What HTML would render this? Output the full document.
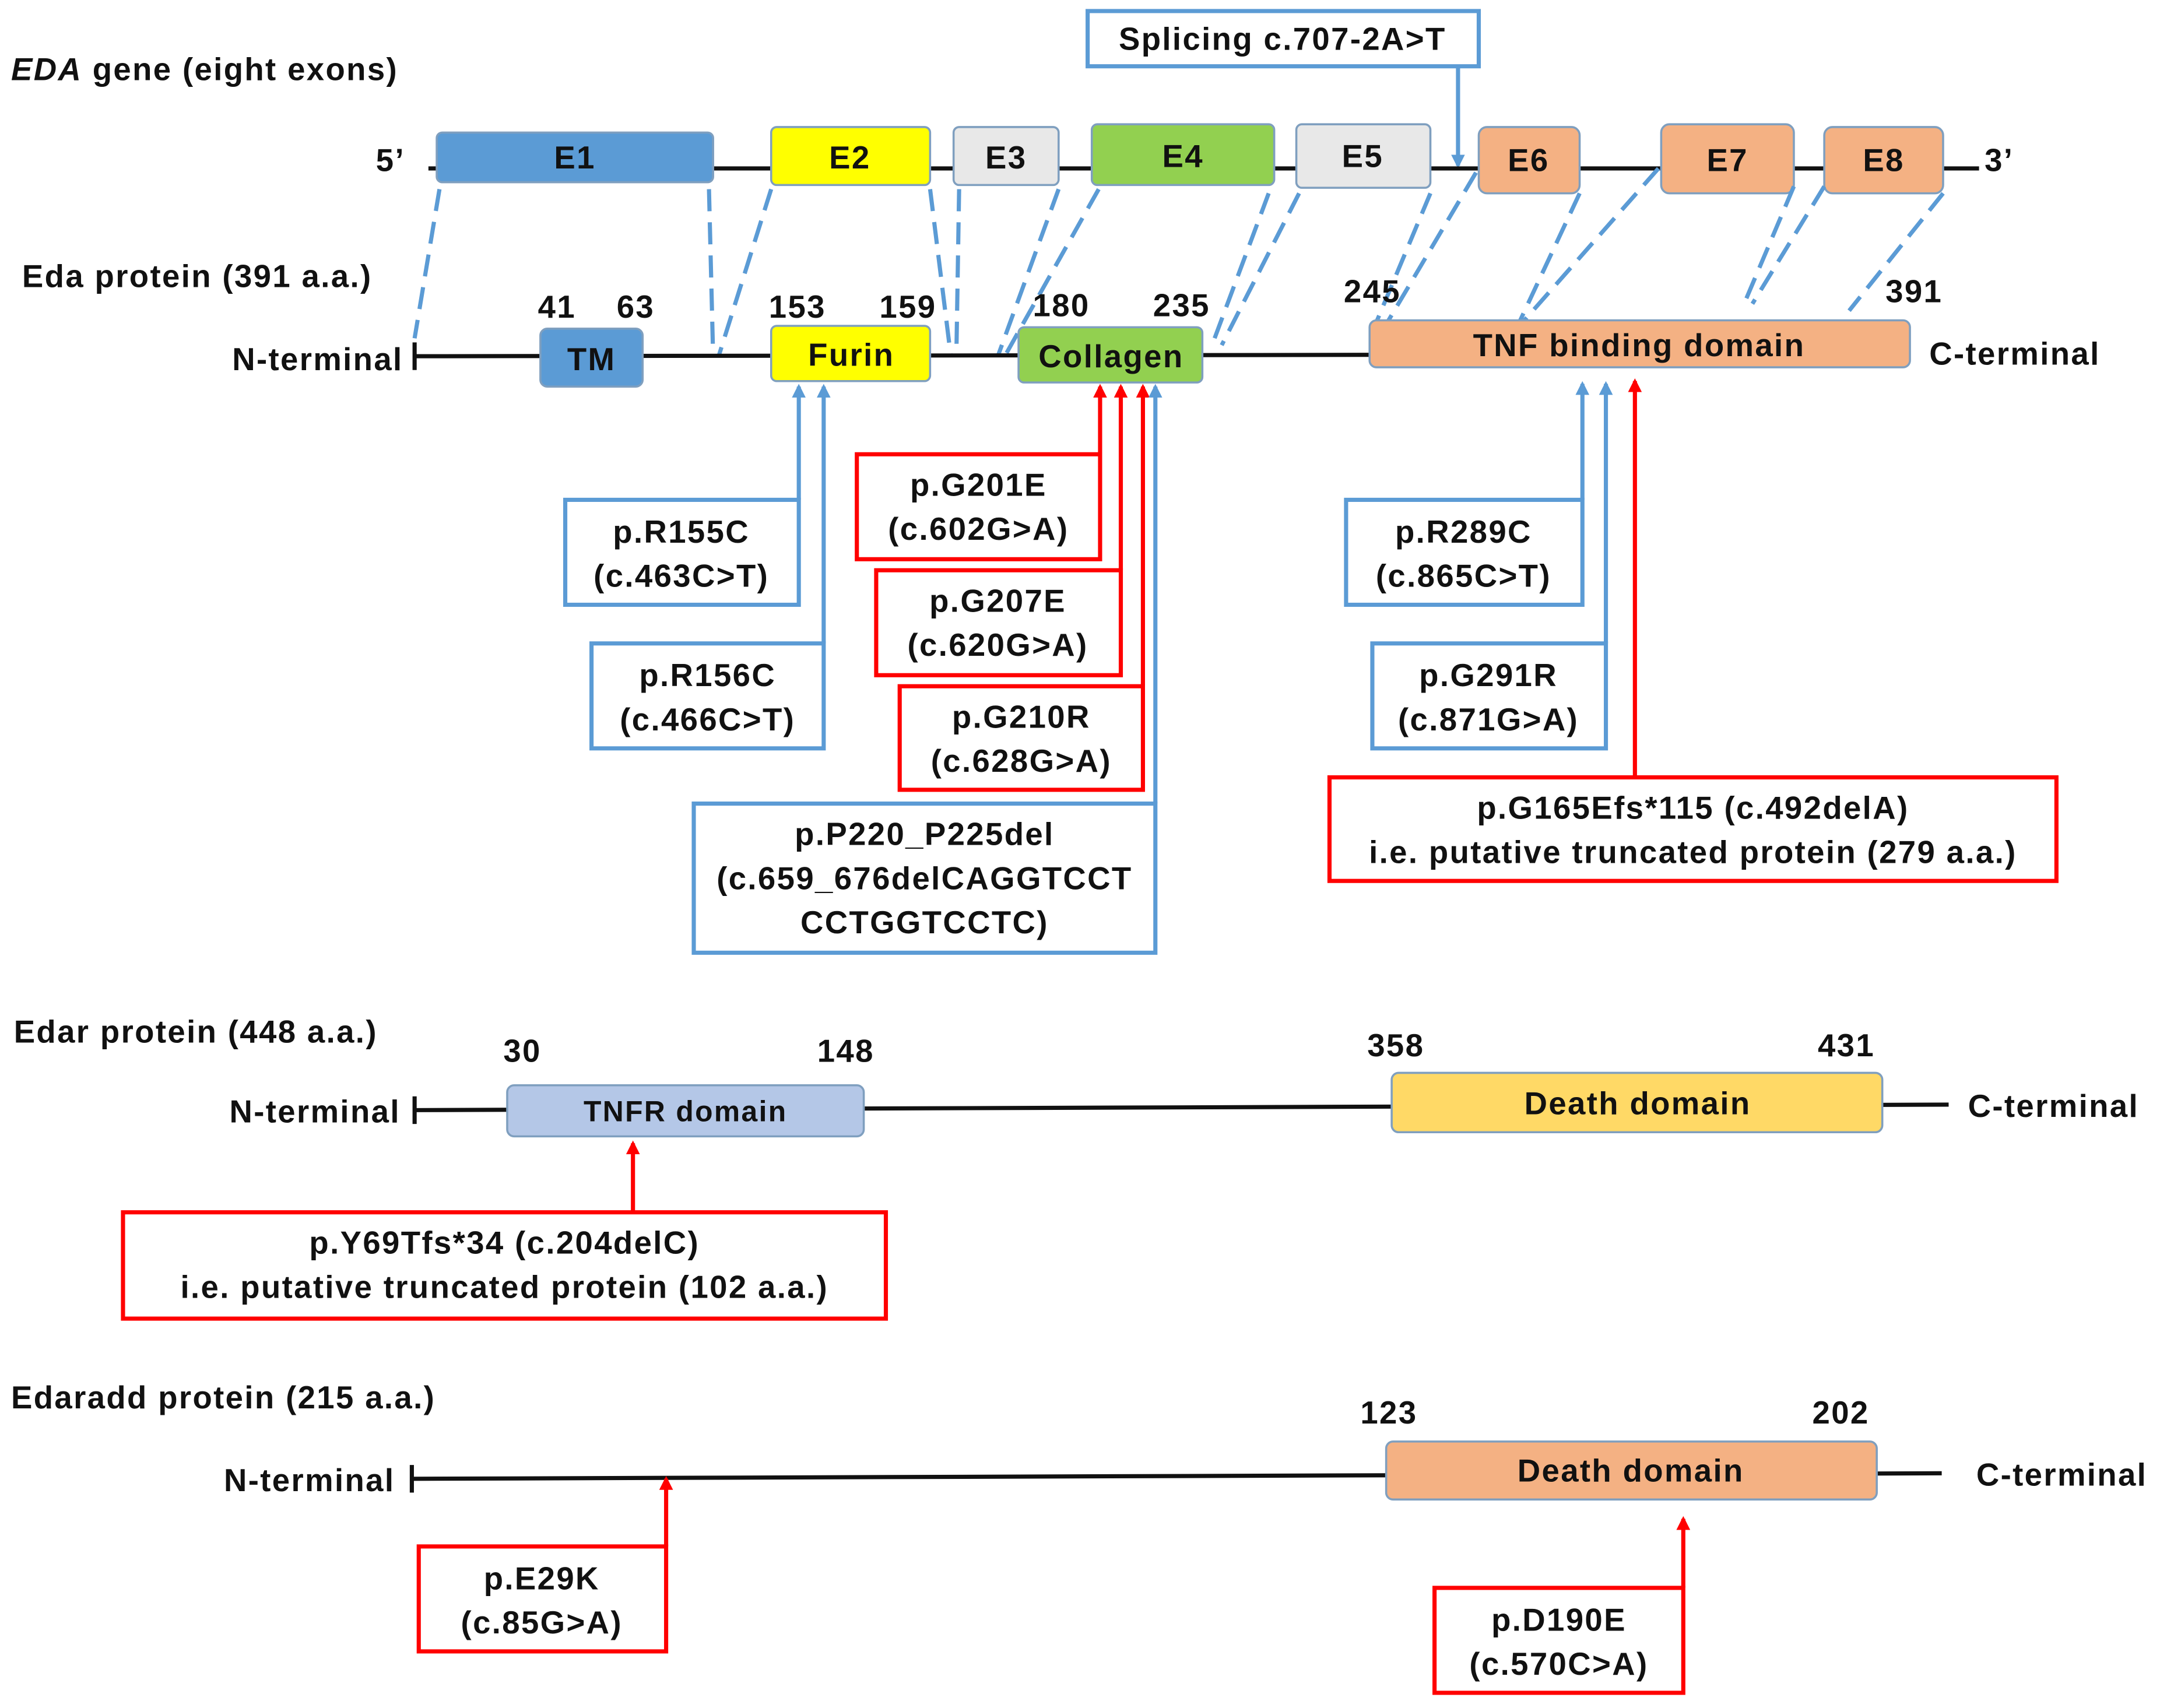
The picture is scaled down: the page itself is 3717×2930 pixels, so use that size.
<!DOCTYPE html>
<html><head><meta charset="utf-8"><style>
html,body{margin:0;padding:0;background:#fff;}
svg{display:block;}
text{font-family:"Liberation Sans",Arial,sans-serif;font-weight:bold;fill:#111;letter-spacing:1px;}
</style></head><body>
<svg width="3717" height="2930" viewBox="0 0 1568 1237" preserveAspectRatio="none" xmlns="http://www.w3.org/2000/svg">
<defs>
<marker id="ab" markerUnits="userSpaceOnUse" markerWidth="10" markerHeight="10" refX="8" refY="5" orient="auto"><path d="M0,0 L10,5 L0,10 z" fill="#5b9bd5"/></marker>
<marker id="ar" markerUnits="userSpaceOnUse" markerWidth="10" markerHeight="10" refX="8" refY="5" orient="auto"><path d="M0,0 L10,5 L0,10 z" fill="#ff0000"/></marker>
</defs>
<g font-size="23">
<text x="8" y="58"><tspan font-style="italic">EDA</tspan> gene (eight exons)</text>
<rect x="787" y="8" width="283" height="40" fill="#fff" stroke="#5b9bd5" stroke-width="3"/>
<text x="928" y="36" text-anchor="middle">Splicing c.707-2A&gt;T</text>
<line x1="1055" y1="48" x2="1055" y2="120" stroke="#5b9bd5" stroke-width="3" marker-end="url(#ab)"/>
<line x1="310" y1="122" x2="1432" y2="122" stroke="#111" stroke-width="3"/>
<text x="272" y="124">5’</text><text x="1436" y="124">3’</text>
<g stroke="#7f9fbf" stroke-width="1.5">
<rect x="316" y="96" width="200" height="36" rx="4" fill="#5b9bd5"/>
<rect x="558" y="92" width="115" height="42" rx="4" fill="#ffff00"/>
<rect x="690" y="92" width="76" height="42" rx="4" fill="#e8e8e8"/>
<rect x="790" y="90" width="132" height="44" rx="4" fill="#92d050"/>
<rect x="938" y="90" width="97" height="46" rx="4" fill="#e8e8e8"/>
<rect x="1070" y="92" width="73" height="48" rx="6" fill="#f4b183"/>
<rect x="1202" y="90" width="96" height="50" rx="6" fill="#f4b183"/>
<rect x="1320" y="92" width="86" height="48" rx="6" fill="#f4b183"/>
</g>
<text x="416" y="122" text-anchor="middle">E1</text>
<text x="615" y="122" text-anchor="middle">E2</text>
<text x="728" y="122" text-anchor="middle">E3</text>
<text x="856" y="121" text-anchor="middle">E4</text>
<text x="986" y="121" text-anchor="middle">E5</text>
<text x="1106" y="124" text-anchor="middle">E6</text>
<text x="1250" y="124" text-anchor="middle">E7</text>
<text x="1363" y="124" text-anchor="middle">E8</text>
<g stroke="#5b9bd5" stroke-width="3" stroke-dasharray="16,8" fill="none">
<line x1="318" y1="137" x2="300" y2="245"/>
<line x1="513" y1="137" x2="516" y2="258"/>
<line x1="558" y1="137" x2="520" y2="258"/>
<line x1="673" y1="137" x2="688" y2="258"/>
<line x1="694" y1="137" x2="692" y2="258"/>
<line x1="766" y1="137" x2="722" y2="258"/>
<line x1="795" y1="137" x2="727" y2="258"/>
<line x1="918" y1="140" x2="877" y2="250"/>
<line x1="940" y1="140" x2="884" y2="250"/>
<line x1="1035" y1="140" x2="991" y2="245"/>
<line x1="1068" y1="125" x2="1000" y2="240"/>
<line x1="1143" y1="140" x2="1100" y2="232"/>
<line x1="1200" y1="122" x2="1103" y2="232"/>
<line x1="1298" y1="135" x2="1262" y2="220"/>
<line x1="1320" y1="135" x2="1268" y2="220"/>
<line x1="1406" y1="140" x2="1338" y2="225"/>
</g>
<text x="16" y="208">Eda protein (391 a.a.)</text>
<line x1="300" y1="258" x2="992" y2="257" stroke="#111" stroke-width="3"/>
<line x1="300" y1="248" x2="300" y2="268" stroke="#111" stroke-width="3"/>
<text x="168" y="268">N-terminal</text>
<text x="1396" y="264">C-terminal</text>
<g stroke="#7f9fbf" stroke-width="1.5">
<rect x="391" y="238" width="74" height="42" rx="5" fill="#5b9bd5"/>
<rect x="558" y="236" width="115" height="40" rx="4" fill="#ffff00"/>
<rect x="737" y="237" width="133" height="40" rx="4" fill="#92d050"/>
<rect x="991" y="232" width="391" height="34" rx="5" fill="#f4b183"/>
</g>
<text x="428" y="268" text-anchor="middle">TM</text>
<text x="616" y="265" text-anchor="middle">Furin</text>
<text x="804" y="266" text-anchor="middle">Collagen</text>
<text x="1186" y="258" text-anchor="middle">TNF binding domain</text>
<text x="403" y="230" text-anchor="middle">41</text>
<text x="460" y="230" text-anchor="middle">63</text>
<text x="577" y="230" text-anchor="middle">153</text>
<text x="657" y="230" text-anchor="middle">159</text>
<text x="768" y="229" text-anchor="middle">180</text>
<text x="855" y="229" text-anchor="middle">235</text>
<text x="993" y="219" text-anchor="middle">245</text>
<text x="1385" y="219" text-anchor="middle">391</text>
<g stroke-width="3" fill="none">
<polyline points="578,362 578,280" stroke="#5b9bd5" marker-end="url(#ab)"/>
<polyline points="596,466 596,280" stroke="#5b9bd5" marker-end="url(#ab)"/>
<polyline points="796,329 796,280" stroke="#ff0000" marker-end="url(#ar)"/>
<polyline points="811,413 811,280" stroke="#ff0000" marker-end="url(#ar)"/>
<polyline points="827,497 827,280" stroke="#ff0000" marker-end="url(#ar)"/>
<polyline points="836,582 836,280" stroke="#5b9bd5" marker-end="url(#ab)"/>
<polyline points="1145,362 1145,278" stroke="#5b9bd5" marker-end="url(#ab)"/>
<polyline points="1162,466 1162,278" stroke="#5b9bd5" marker-end="url(#ab)"/>
<polyline points="1183,563 1183,276" stroke="#ff0000" marker-end="url(#ar)"/>
</g>
<g fill="#fff" stroke-width="3">
<rect x="409" y="362" width="169" height="76" stroke="#5b9bd5"/>
<rect x="428" y="466" width="168" height="76" stroke="#5b9bd5"/>
<rect x="620" y="329" width="176" height="76" stroke="#ff0000"/>
<rect x="634" y="413" width="177" height="76" stroke="#ff0000"/>
<rect x="651" y="497" width="176" height="75" stroke="#ff0000"/>
<rect x="502" y="582" width="334" height="108" stroke="#5b9bd5"/>
<rect x="974" y="362" width="171" height="76" stroke="#5b9bd5"/>
<rect x="993" y="466" width="169" height="76" stroke="#5b9bd5"/>
<rect x="962" y="563" width="526" height="75" stroke="#ff0000"/>
</g>
<g text-anchor="middle">
<text x="493" y="393">p.R155C</text><text x="493" y="425">(c.463C&gt;T)</text>
<text x="512" y="497">p.R156C</text><text x="512" y="529">(c.466C&gt;T)</text>
<text x="708" y="359">p.G201E</text><text x="708" y="391">(c.602G&gt;A)</text>
<text x="722" y="443">p.G207E</text><text x="722" y="475">(c.620G&gt;A)</text>
<text x="739" y="527">p.G210R</text><text x="739" y="559">(c.628G&gt;A)</text>
<text x="669" y="612">p.P220_P225del</text><text x="669" y="644">(c.659_676delCAGGTCCT</text><text x="669" y="676">CCTGGTCCTC)</text>
<text x="1059" y="393">p.R289C</text><text x="1059" y="425">(c.865C&gt;T)</text>
<text x="1077" y="497">p.G291R</text><text x="1077" y="529">(c.871G&gt;A)</text>
<text x="1225" y="593">p.G165Efs*115 (c.492delA)</text><text x="1225" y="625">i.e. putative truncated protein (279 a.a.)</text>
</g>

<text x="10" y="755">Edar protein (448 a.a.)</text>
<text x="378" y="769" text-anchor="middle">30</text>
<text x="612" y="769" text-anchor="middle">148</text>
<text x="1010" y="765" text-anchor="middle">358</text>
<text x="1336" y="765" text-anchor="middle">431</text>
<line x1="300" y1="804" x2="1410" y2="800" stroke="#111" stroke-width="3"/>
<line x1="300" y1="794" x2="300" y2="814" stroke="#111" stroke-width="3"/>
<text x="166" y="813">N-terminal</text>
<text x="1424" y="809">C-terminal</text>
<rect x="367" y="786" width="258" height="37" rx="5" fill="#b4c7e7" stroke="#7f9fbf" stroke-width="1.5"/>
<text x="496" y="812" text-anchor="middle" font-size="21">TNFR domain</text>
<rect x="1007" y="777" width="355" height="43" rx="5" fill="#ffd966" stroke="#7f9fbf" stroke-width="1.5"/>
<text x="1185" y="807" text-anchor="middle">Death domain</text>
<polyline points="458,878 458,828" stroke="#ff0000" stroke-width="3" fill="none" marker-end="url(#ar)"/>
<rect x="89" y="878" width="552" height="77" fill="#fff" stroke="#ff0000" stroke-width="3"/>
<text x="365" y="908" text-anchor="middle">p.Y69Tfs*34 (c.204delC)</text>
<text x="365" y="940" text-anchor="middle">i.e. putative truncated protein (102 a.a.)</text>

<text x="8" y="1020">Edaradd protein (215 a.a.)</text>
<text x="1005" y="1031" text-anchor="middle">123</text>
<text x="1332" y="1031" text-anchor="middle">202</text>
<line x1="298" y1="1071" x2="1405" y2="1067" stroke="#111" stroke-width="3"/>
<line x1="298" y1="1061" x2="298" y2="1081" stroke="#111" stroke-width="3"/>
<text x="162" y="1080">N-terminal</text>
<text x="1430" y="1076">C-terminal</text>
<rect x="1003" y="1044" width="355" height="42" rx="5" fill="#f4b183" stroke="#7f9fbf" stroke-width="1.5"/>
<text x="1180" y="1073" text-anchor="middle">Death domain</text>
<polyline points="482,1120 482,1071" stroke="#ff0000" stroke-width="3" fill="none" marker-end="url(#ar)"/>
<rect x="303" y="1120" width="179" height="76" fill="#fff" stroke="#ff0000" stroke-width="3"/>
<text x="392" y="1151" text-anchor="middle">p.E29K</text>
<text x="392" y="1183" text-anchor="middle">(c.85G&gt;A)</text>
<polyline points="1218,1150 1218,1100" stroke="#ff0000" stroke-width="3" fill="none" marker-end="url(#ar)"/>
<rect x="1038" y="1150" width="180" height="76" fill="#fff" stroke="#ff0000" stroke-width="3"/>
<text x="1128" y="1181" text-anchor="middle">p.D190E</text>
<text x="1128" y="1213" text-anchor="middle">(c.570C&gt;A)</text>
</g>
</svg>
</body></html>
